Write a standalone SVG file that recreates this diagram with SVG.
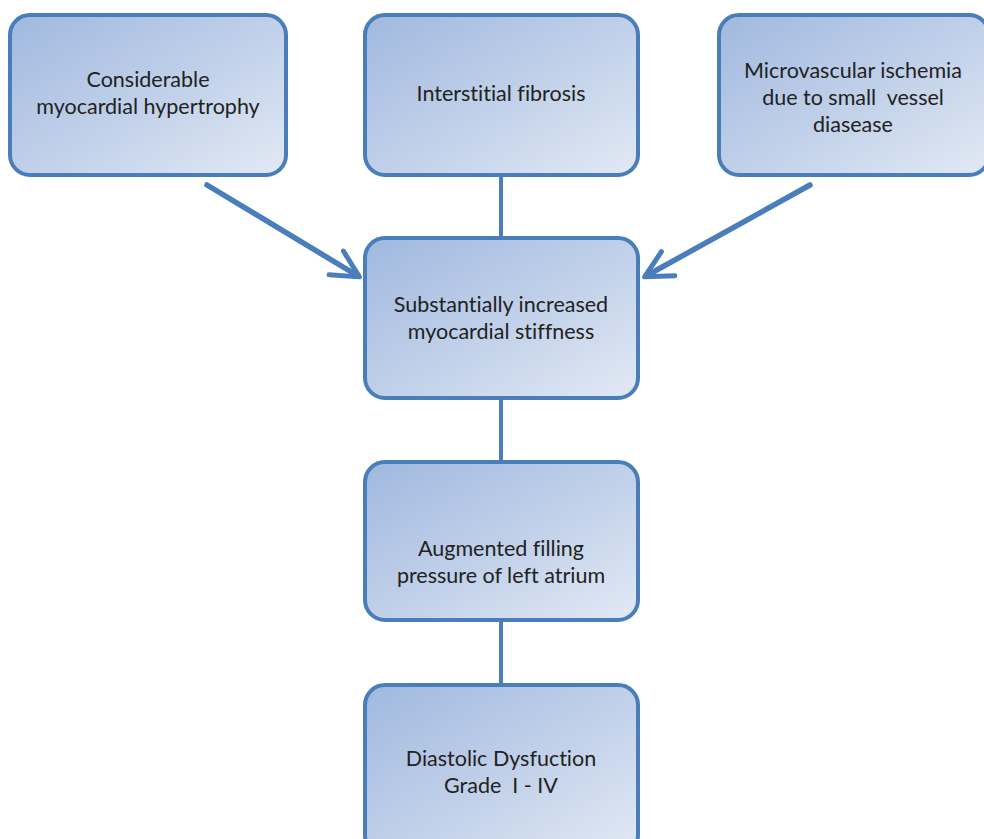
<svg xmlns="http://www.w3.org/2000/svg" width="984" height="839" viewBox="0 0 984 839">
<defs>
<linearGradient id="g" x1="0" y1="0" x2="1" y2="1">
<stop offset="0" stop-color="#a0b8df"/>
<stop offset="0.55" stop-color="#c3d2ea"/>
<stop offset="1" stop-color="#e2e9f4"/>
</linearGradient>
<marker id="ah" viewBox="0 0 10 10" refX="8.5" refY="5" markerWidth="6" markerHeight="6" orient="auto" markerUnits="strokeWidth">
<path d="M0.8,0.8 L9,5 L0.8,9.2" fill="none" stroke="#4a7ebb" stroke-width="1.5" stroke-linecap="round" stroke-linejoin="round"/>
</marker>
</defs>
<style>
.box{fill:url(#g);stroke:#4a7ebb;stroke-width:4}
.t{font-family:Lato,"Open Sans","Liberation Sans",sans-serif;font-size:21.5px;fill:#222;text-anchor:middle;font-variant-ligatures:none;font-feature-settings:"liga" 0,"dlig" 0;white-space:pre}
.ln{stroke:#4a7ebb;stroke-width:4;fill:none}
.ar{stroke:#4a7ebb;stroke-width:5.5;fill:none;stroke-linecap:round}
</style>
<rect width="984" height="839" fill="#fff"/>
<g id="connectors">
<line class="ln" x1="501" y1="175" x2="501" y2="238"/>
<line class="ln" x1="501" y1="398" x2="501" y2="462"/>
<line class="ln" x1="501" y1="620" x2="501" y2="685"/>
<line class="ar" x1="207" y1="185" x2="358" y2="276" marker-end="url(#ah)"/>
<line class="ar" x1="810" y1="185" x2="646" y2="276" marker-end="url(#ah)"/>
</g>
<g id="n1">
<rect class="box" x="10" y="15" width="276" height="160" rx="20"/>
<text class="t" x="148" y="87">Considerable</text>
<text class="t" x="148" y="114">myocardial hypertrophy</text>
</g>
<g id="n2">
<rect class="box" x="365" y="15" width="273" height="160" rx="20"/>
<text class="t" x="501" y="101">Interstitial fibrosis</text>
</g>
<g id="n3">
<rect class="box" x="719" y="15" width="270" height="160" rx="20"/>
<text class="t" x="853" y="78">Microvascular ischemia</text>
<text class="t" x="853" y="105" xml:space="preserve">due to small  vessel</text>
<text class="t" x="853" y="132">diasease</text>
</g>
<g id="n4">
<rect class="box" x="365" y="238" width="273" height="160" rx="20"/>
<text class="t" x="501" y="312">Substantially increased</text>
<text class="t" x="501" y="339">myocardial stiffness</text>
</g>
<g id="n5">
<rect class="box" x="365" y="462" width="273" height="158" rx="20"/>
<text class="t" x="501" y="556">Augmented filling</text>
<text class="t" x="501" y="583">pressure of left atrium</text>
</g>
<g id="n6">
<rect class="box" x="365" y="685" width="273" height="170" rx="20"/>
<text class="t" x="501" y="766">Diastolic Dysfuction</text>
<text class="t" x="501" y="793" xml:space="preserve">Grade  I - IV</text>
</g>
</svg>
